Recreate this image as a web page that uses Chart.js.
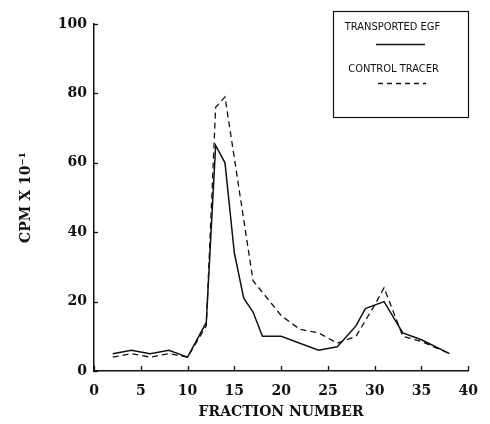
<!DOCTYPE html>
<html>
<head>
<meta charset="utf-8">
<script src="https://cdn.jsdelivr.net/npm/chart.js@4/dist/chart.umd.min.js"></script>
<style>
  html, body { margin: 0; padding: 0; background: #fff; }
  #wrap { width: 490px; height: 424px; position: relative; }
</style>
</head>
<body>
<div id="wrap"><canvas id="c" width="490" height="424"></canvas></div>
<script>
// Data
const seriesNames = ['TRANSPORTED EGF', 'CONTROL TRACER'];
const egfFractions = [2, 4, 6, 8, 10, 12, 13, 14, 15, 16, 17, 18, 20, 24, 26, 28, 29, 31, 33, 35, 38];
const egfValues    = [5, 6, 5, 6, 4, 14, 65, 60, 34, 21, 17, 10, 10, 6, 7, 13, 18, 20, 11, 9, 5];
const tracerFractions = [2, 4, 6, 8, 10, 12, 13, 14, 17, 20, 22, 24, 26, 28, 30, 31, 33, 35, 38];
const tracerValues    = [4, 5, 4, 5, 4, 13, 76, 79, 26, 16, 12, 11, 8, 10, 19, 24, 10, 8.5, 5];
const xTicks = [0, 5, 10, 15, 20, 25, 30, 35, 40];
const yTicks = [0, 20, 40, 60, 80, 100];
const xTitle = 'FRACTION NUMBER';
const yTitle = 'CPM X 10\u207B\u00B9';

const INK = '#111';
const serif = '"DejaVu Serif", "Liberation Serif", serif';

function toXY(xs, ys) { return xs.map((x, i) => ({ x: x, y: ys[i] })); }

const inwardTicks = {
  id: 'inwardTicks',
  afterDatasetsDraw(chart) {
    const { ctx, scales: { x, y }, chartArea } = chart;
    ctx.save();
    ctx.strokeStyle = INK;
    ctx.lineWidth = 1.3;
    xTicks.forEach(v => {
      const px = Math.round(x.getPixelForValue(v)) + 0.5;
      ctx.beginPath();
      ctx.moveTo(px, chartArea.bottom);
      ctx.lineTo(px, chartArea.bottom - 5);
      ctx.stroke();
    });
    yTicks.forEach(v => {
      const py = Math.round(y.getPixelForValue(v)) + 0.5;
      ctx.beginPath();
      ctx.moveTo(chartArea.left - 1, py);
      ctx.lineTo(chartArea.left + 4, py);
      ctx.stroke();
    });
    ctx.restore();
  }
};

const boxLegend = {
  id: 'boxLegend',
  afterDraw(chart) {
    const { ctx } = chart;
    const left = 333, top = 11, right = 468, bottom = 117;
    const cx = (left + right) / 2 - 8;
    ctx.save();
    ctx.strokeStyle = INK;
    ctx.lineWidth = 1.2;
    ctx.strokeRect(left + 0.5, top + 0.5, right - left, bottom - top);
    ctx.fillStyle = INK;
    ctx.font = '11px "DejaVu Sans Condensed", "Liberation Sans Narrow", "DejaVu Sans", sans-serif';
    ctx.textAlign = 'center';
    ctx.textBaseline = 'middle';
    ctx.fillText(chart.data.datasets[0].label, cx, 27);
    ctx.fillText(chart.data.datasets[1].label, cx + 1, 69);
    ctx.lineWidth = 1.3;
    ctx.beginPath();
    ctx.moveTo(376, 44.5); ctx.lineTo(425, 44.5);
    ctx.stroke();
    ctx.setLineDash([5, 4]);
    ctx.beginPath();
    ctx.moveTo(378, 83.5); ctx.lineTo(426, 83.5);
    ctx.stroke();
    ctx.restore();
  }
};

new Chart(document.getElementById('c'), {
  type: 'line',
  data: {
    datasets: [
      {
        label: seriesNames[0],
        data: toXY(egfFractions, egfValues),
        borderColor: INK,
        borderWidth: 1.5,
        pointRadius: 0,
        tension: 0,
        fill: false
      },
      {
        label: seriesNames[1],
        data: toXY(tracerFractions, tracerValues),
        borderColor: INK,
        borderWidth: 1.3,
        borderDash: [6, 4],
        pointRadius: 0,
        tension: 0,
        fill: false
      }
    ]
  },
  options: {
    responsive: false,
    animation: false,
    layout: { padding: { top: 24, right: 12, left: 0, bottom: 0 } },
    plugins: {
      legend: { display: false },
      tooltip: { enabled: false }
    },
    scales: {
      x: {
        type: 'linear',
        min: 0, max: 40,
        afterBuildTicks(scale) { scale.ticks = xTicks.map(v => ({ value: v })); },
        afterFit(scale) { scale.height = 53; },
        grid: { display: false, drawTicks: false },
        border: { display: true, color: INK, width: 1.5 },
        ticks: { color: INK, padding: 12, maxRotation: 0, font: { family: serif, size: 14, weight: 'bold' } },
        title: { display: true, text: xTitle, color: INK, padding: { top: 0, bottom: 3 }, font: { family: serif, size: 14, weight: 'bold' } }
      },
      y: {
        type: 'linear',
        min: 0, max: 100,
        afterBuildTicks(scale) { scale.ticks = yTicks.map(v => ({ value: v })); },
        afterFit(scale) { scale.width = 94; },
        grid: { display: false, drawTicks: false },
        border: { display: true, color: INK, width: 1.5 },
        ticks: { color: INK, padding: 7, font: { family: serif, size: 14, weight: 'bold' } },
        title: { display: true, text: yTitle, color: INK, padding: { top: 18, bottom: 0 }, font: { family: serif, size: 14, weight: 'bold' } }
      }
    }
  },
  plugins: [inwardTicks, boxLegend]
});
</script>
</body>
</html>
